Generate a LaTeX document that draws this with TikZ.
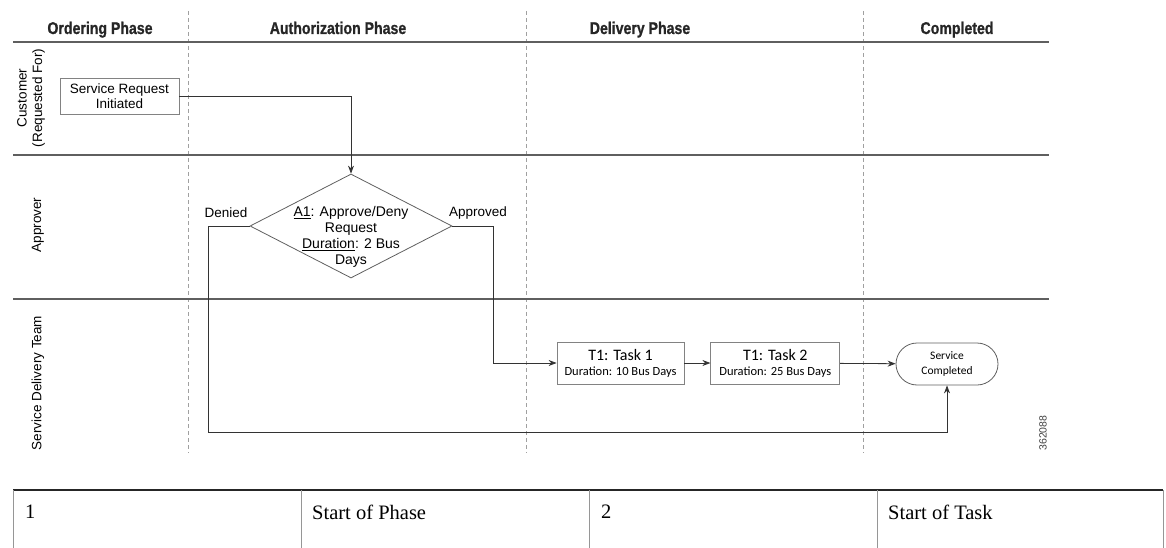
\documentclass[tikz,border=0pt]{standalone}
\usepackage{fontspec}
\setmainfont{Liberation Serif}
\setsansfont{Liberation Sans}
\newfontfamily\calibfont{Carlito}
\newfontfamily\narrowbold[FakeStretch=0.83, FakeBold=1]{Liberation Sans Bold}
\usepackage{xcolor}
\usetikzlibrary{
  shapes.geometric,
  arrows.meta,
  positioning,
  calc
}
\definecolor{laneline}{RGB}{95, 95, 95}
\definecolor{phasedash}{RGB}{160, 160, 160}
\definecolor{boxgray}{RGB}{130, 130, 130}
\definecolor{tablegray}{RGB}{150, 150, 150}
\tikzset{
  phasehdr/.style = {
    anchor=base, inner sep=0pt, text=black!85,
    font=\narrowbold\fontsize{17}{18}\selectfont
  },
  lanelbl/.style = {
    rotate=90, align=center, inner sep=0pt,
    font=\sffamily\fontsize{13.5}{15.5}\selectfont
  },
  reqbox/.style = {
    rectangle, draw=boxgray, line width=0.8pt,
    minimum width=119pt, minimum height=36pt, inner sep=1pt,
    align=center, font=\sffamily\fontsize{13.5}{14.5}\selectfont
  },
  apprdiamond/.style = {
    diamond, draw=laneline, line width=0.8pt, inner sep=0pt,
    minimum width=202pt, minimum height=104pt, aspect=1.94
  },
  apprtext/.style = {
    align=center, inner sep=0pt,
    font=\sffamily\fontsize{14}{16}\selectfont
  },
  taskbox/.style = {
    rectangle, draw=boxgray, line width=0.8pt,
    minimum width=#1, minimum height=42pt, inner sep=1pt,
    align=center, font=\calibfont\fontsize{12.5}{15}\selectfont
  },
  taskbox/.default = 127pt,
  endnode/.style = {
    rectangle, rounded corners=21pt, draw=laneline, line width=0.8pt,
    minimum width=102pt, minimum height=42pt, inner sep=1pt,
    align=center, font=\calibfont\fontsize{11.5}{14.5}\selectfont
  },
  flowlbl/.style = {font=\sffamily\fontsize{13.5}{15}\selectfont, inner sep=0pt},
  arr/.style  = {-{Stealth[length=8pt,width=6pt]}, draw=black!80, line width=0.8pt},
  lanerule/.style = {draw=laneline, line width=1.6pt},
  phaserule/.style = {draw=phasedash, dashed, dash pattern=on 4pt off 3pt, line width=0.9pt},
  tblcell/.style = {anchor=west, inner sep=0pt, font=\fontsize{20.5}{22}\selectfont},
}

\begin{document}
\begin{tikzpicture}[x=1pt, y=-1pt]
  \useasboundingbox (0,0) rectangle (1166,548);

  % Phase separators (dashed)
  \foreach \px in {188, 526, 863}
    \draw[phaserule] (\px,11) -- (\px,453);

  % Lane rules
  \foreach \ly in {42, 155, 299}
    \draw[lanerule] (13,\ly) -- (1049,\ly);

  % Phase headers
  \node[phasehdr] (hdr_order) at (100,34) {Ordering Phase};
  \node[phasehdr] (hdr_auth)  at (338,34) {Authorization Phase};
  \node[phasehdr] (hdr_deliv) at (640,34) {Delivery Phase};
  \node[phasehdr] (hdr_done)  at (957,34) {Completed};

  % Lane labels
  \node[lanelbl] (lane_cust) at (31,98)  {Customer\\(Requested For)};
  \node[lanelbl] (lane_appr) at (38,225) {Approver};
  \node[lanelbl] (lane_sdt)  at (38,383) {Service Delivery Team};

  % Flow nodes
  \node[reqbox] (request) at (119.5,96) {Service Request\\Initiated};
  \node[apprdiamond] (approve) at (351,226) {};
  \node[apprtext] (approve_txt) at ($(approve.center)+(0,11)$)
    {\underline{A1}: Approve/Deny\\Request\\\underline{Duration}: 2 Bus\\Days};
  \node[taskbox] (task1) at (620.5,363)
    {{\fontsize{16}{18}\selectfont T1: Task 1}\\Duration: 10 Bus Days};
  \node[taskbox=129pt, right=26pt of task1] (task2)
    {{\fontsize{16}{18}\selectfont T1: Task 2}\\Duration: 25 Bus Days};
  \node[endnode] (done) at (947,364) {Service\\Completed};

  \node[flowlbl] (lbl_denied)   at (226,213) {Denied};
  \node[flowlbl] (lbl_approved) at (478,213) {Approved};

  \coordinate (c_req)  at (351,96);
  \coordinate (c_den1) at (208,226);
  \coordinate (c_den2) at (208,432);
  \coordinate (c_den3) at (947,432);
  \coordinate (c_app1) at (493,226);
  \coordinate (c_app2) at (493,363);

  % Connectors
  \draw[arr] (request.east) -- (c_req) -- (approve.north);
  \draw[arr] (approve.west) -- (c_den1) -- (c_den2) -- (c_den3) -- (done.south);
  \draw[arr] (approve.east) -- (c_app1) -- (c_app2) -- (task1.west);
  \draw[arr] (task1) -- (task2);
  \draw[arr] (task2) -- (done);

  % Figure number
  \node[rotate=90, inner sep=0pt, font=\sffamily\fontsize{10.5}{12}\selectfont, text=black!75]
    (fignum) at (1043,433) {362088};

  % Legend table
  \draw[black!85, line width=1.2pt] (13,490) -- (1163,490);
  \foreach \tx in {13, 301, 589, 877, 1163}
    \draw[tablegray, line width=1pt] (\tx,490) -- (\tx,548);
  \node[tblcell] (key1)  at (25,512)  {1};
  \node[tblcell] (desc1) at (312,512) {Start of Phase};
  \node[tblcell] (key2)  at (601,512) {2};
  \node[tblcell] (desc2) at (888,512) {Start of Task};

\end{tikzpicture}
\end{document}
